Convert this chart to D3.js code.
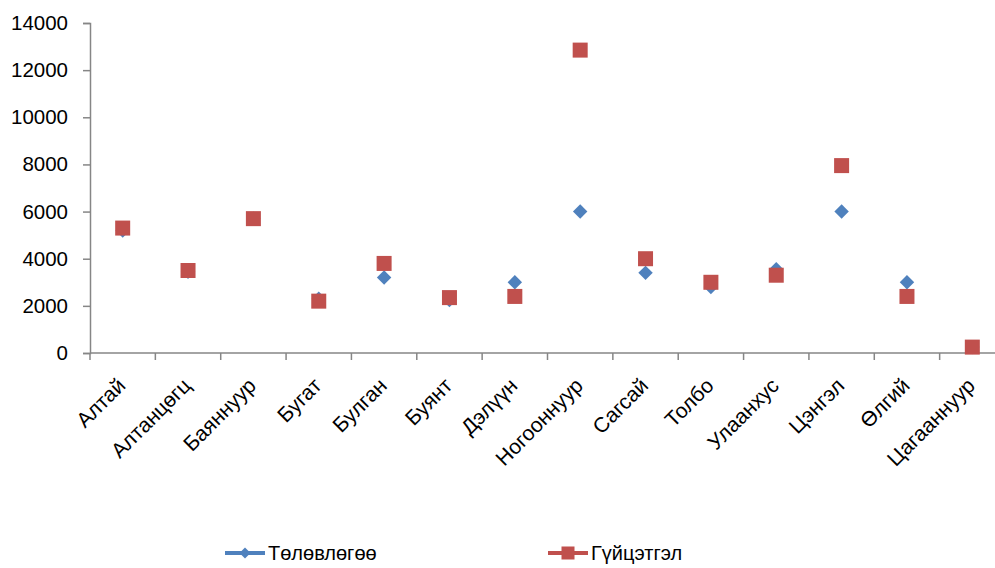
<!DOCTYPE html>
<html>
<head>
<meta charset="utf-8">
<script src="https://cdn.jsdelivr.net/npm/d3@7"></script>
<style>
  html, body { margin: 0; padding: 0; background: #fff; }
  svg { display: block; font-family: "Liberation Sans", Arial, sans-serif; }
</style>
</head>
<body>
<svg id="chart" width="995" height="568"></svg>
<script>
const categories = ["Алтай","Алтанцөгц","Баяннуур","Бугат","Булган","Буянт","Дэлүүн","Ногооннуур","Сагсай","Толбо","Улаанхус","Цэнгэл","Өлгий","Цагааннуур"];
const planValues = [5200, 3450, 5700, 2300, 3200, 2250, 3000, 6000, 3400, 2800, 3550, 6000, 3000, 250];
const actualValues = [5300, 3500, 5700, 2200, 3800, 2350, 2400, 12850, 4000, 3000, 3300, 7950, 2400, 250];
const yTicks = [0, 2000, 4000, 6000, 8000, 10000, 12000, 14000];
const seriesNames = ["Төлөвлөгөө", "Гүйцэтгэл"];
const seriesColors = ["#4F81BD", "#C0504D"];

(function () {
const svg = d3.select("#chart");
const mLeft = 90, mRight = 1005, mTop = 23, mBottom = 353;

const x = d3.scaleBand().domain(categories).range([mLeft, mRight]).padding(0);
const y = d3.scaleLinear().domain([0, 14000]).range([mBottom, mTop]);

const axisColor = "#868686";

// Y axis
const yAxis = svg.append("g").attr("transform", `translate(${mLeft},0)`)
  .call(d3.axisLeft(y).tickValues(yTicks).tickSize(7).tickPadding(15).tickFormat(d3.format("d")));
yAxis.select(".domain").attr("stroke", axisColor).attr("stroke-width", 1.5);
yAxis.selectAll(".tick line").attr("stroke", axisColor).attr("stroke-width", 1.5);
yAxis.selectAll("text").attr("font-size", 20.5).attr("fill", "#000").attr("font-family", "Liberation Sans, Arial, sans-serif");

// X axis with ticks at band boundaries
const xg = svg.append("g");
xg.append("line").attr("x1", mLeft).attr("x2", mRight).attr("y1", mBottom).attr("y2", mBottom)
  .attr("stroke", axisColor).attr("stroke-width", 1.5);
const bounds = categories.map(c => x(c)).concat([x(categories[categories.length-1]) + x.bandwidth()]);
xg.selectAll("line.tk").data(bounds).enter().append("line").attr("class","tk")
  .attr("x1", d => d).attr("x2", d => d).attr("y1", mBottom).attr("y2", mBottom + 7)
  .attr("stroke", axisColor).attr("stroke-width", 1.5);
xg.selectAll("text.lbl").data(categories).enter().append("text").attr("class","lbl")
  .attr("transform", d => `translate(${x(d) + x.bandwidth()/2 + 4},${mBottom + 34}) rotate(-45)`)
  .attr("text-anchor", "end")
  .attr("font-size", 21)
  .attr("fill", "#000")
  .text(d => d);

// Series markers
svg.append("g").selectAll("path").data(categories.map((c,i) => ({c, v: planValues[i]})).filter(d => d.v != null))
  .enter().append("path")
  .attr("d", d3.symbol().type(d3.symbolSquare).size(104)())
  .attr("transform", d => `translate(${x(d.c) + x.bandwidth()/2},${y(d.v)}) rotate(45)`)
  .attr("fill", seriesColors[0]);

svg.append("g").selectAll("rect").data(categories.map((c,i) => ({c, v: actualValues[i]})).filter(d => d.v != null))
  .enter().append("rect")
  .attr("x", d => x(d.c) + x.bandwidth()/2 - 7.5)
  .attr("y", d => y(d.v) - 7.5)
  .attr("width", 15).attr("height", 15)
  .attr("fill", seriesColors[1]);

// Legend
const legendItems = [
  {name: seriesNames[0], color: seriesColors[0], x0: 225, type: "diamond"},
  {name: seriesNames[1], color: seriesColors[1], x0: 548, type: "square"}
];
const ly = 553;
const lg = svg.append("g");
legendItems.forEach(it => {
  lg.append("line").attr("x1", it.x0).attr("x2", it.x0 + 40).attr("y1", ly).attr("y2", ly)
    .attr("stroke", it.color).attr("stroke-width", 4);
  if (it.type === "diamond") {
    lg.append("path").attr("d", d3.symbol().type(d3.symbolSquare).size(60)())
      .attr("transform", `translate(${it.x0 + 20},${ly}) rotate(45)`).attr("fill", it.color);
  } else {
    lg.append("rect").attr("x", it.x0 + 20 - 6.5).attr("y", ly - 6.5).attr("width", 13).attr("height", 13).attr("fill", it.color);
  }
  lg.append("text").attr("x", it.x0 + 43).attr("y", ly + 7).attr("font-size", 20).attr("fill", "#000").text(it.name);
});
})();
</script>
</body>
</html>
